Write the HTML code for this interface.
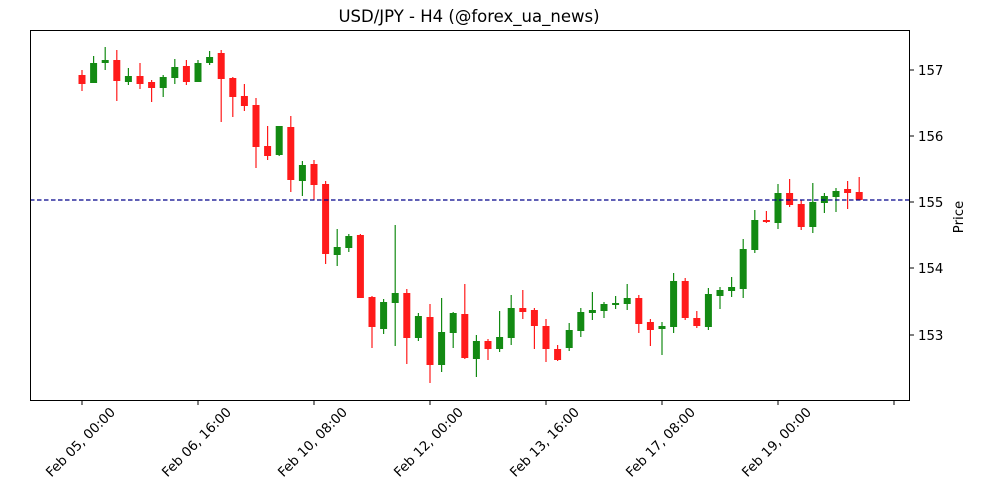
<!DOCTYPE html>
<html><head><meta charset="utf-8"><style>body{margin:0;background:#fff}svg{display:block}text{font-family:"DejaVu Sans","Liberation Sans",sans-serif;fill:#000}</style></head>
<body>
<svg id="s" width="1000" height="500" xmlns="http://www.w3.org/2000/svg">
<rect width="1000" height="500" fill="#fff"/>
<text x="469" y="22" font-size="16.5" text-anchor="middle">USD/JPY - H4 (@forex_ua_news)</text>
<g id="c"></g>
<line x1="30" y1="200" x2="910" y2="200" stroke="#00008b" stroke-width="1.2" stroke-dasharray="4.5,2.5"/>
<rect x="30.5" y="30.5" width="879" height="370" fill="none" stroke="#000" stroke-width="1"/>
<g id="t"></g>
<text transform="translate(963,217) rotate(-90)" font-size="13.3" text-anchor="middle">Price</text>
</svg>
<script>
var d=[
['r',70,75,84,91],['g',56,63,83,83],['g',47,60,63,70],['r',50,60,81,101],['g',68,76,82,85],['r',63,76,84,89],['r',80,82,88,102],['g',75,77,88,97],['g',59,67,78,84],['r',60,66,82,85],
['g',60,63,82,82],['g',51,57,63,65],['r',50,53,79,122],['r',77,78,97,117],['r',84,96,106,111],['r',98,105,147,168],['r',126,146,156,160],['g',126,126,155,156],['r',116,127,180,192],['g',161,165,181,196],
['r',160,164,185,200],['r',181,184,254,264],['g',229,247,255,266],['g',234,236,248,252],['r',234,235,298,298],['r',296,297,327,348],['g',299,302,329,334],['g',225,293,303,346],['r',289,293,338,364],['g',313,316,338,341],
['r',304,317,365,383],['g',298,332,365,372],['g',312,313,333,348],['r',284,314,358,359],['g',335,341,359,377],['r',339,341,349,360],['g',311,337,349,352],['g',295,308,338,345],['r',290,308,312,319],['r',308,310,326,349],
['r',319,326,349,362],['r',345,349,360,361],['g',323,330,348,351],['g',308,312,331,337],['g',292,310,313,320],['g',302,304,311,318],['g',296,303,305,309],['g',284,298,304,310],['r',295,298,324,333],['r',319,322,330,346],
['g',322,326,329,355],['g',273,281,327,333],['r',278,281,318,320],['r',311,318,326,328],['g',288,294,327,330],['g',287,290,296,309],['g',277,287,291,297],['g',239,249,289,298],['g',210,220,250,253],['r',211,220,222,223],
['g',184,193,223,229],['r',179,193,205,207],['r',200,204,227,230],['g',183,202,227,233],['g',193,196,203,213],['g',188,191,197,212],['r',181,189,193,209],['r',177,192,200,200]];
var h='';
d.forEach(function(c,i){var x=82+i*11.6;var col=c[0]=='r'?'#ff1a1a':'#138a13';
h+='<line x1="'+x+'" y1="'+c[1]+'" x2="'+x+'" y2="'+c[4]+'" stroke="'+col+'" stroke-width="1.2"/>';
h+='<rect x="'+(x-3.5)+'" y="'+c[2]+'" width="7" height="'+Math.max(1.5,c[3]-c[2])+'" fill="'+col+'"/>';});
document.getElementById('c').innerHTML=h;
var t='';
[[157,70],[156,136],[155,202],[154,268],[153,335]].forEach(function(p){t+='<line x1="910" y1="'+p[1]+'" x2="914" y2="'+p[1]+'" stroke="#000"/><text x="918" y="'+(p[1]+5)+'" font-size="13.3">'+p[0]+'</text>';});
var L=['Feb 05, 00:00','Feb 06, 16:00','Feb 10, 08:00','Feb 12, 00:00','Feb 13, 16:00','Feb 17, 08:00','Feb 19, 00:00',''];
L.forEach(function(s,i){var x=82+i*116;t+='<line x1="'+x+'" y1="401" x2="'+x+'" y2="405" stroke="#000"/>';
if(s)t+='<text transform="translate('+(x+34)+',413) rotate(-45)" font-size="13.3" text-anchor="end">'+s+'</text>';});
document.getElementById('t').innerHTML=t;
</script>
</body></html>
